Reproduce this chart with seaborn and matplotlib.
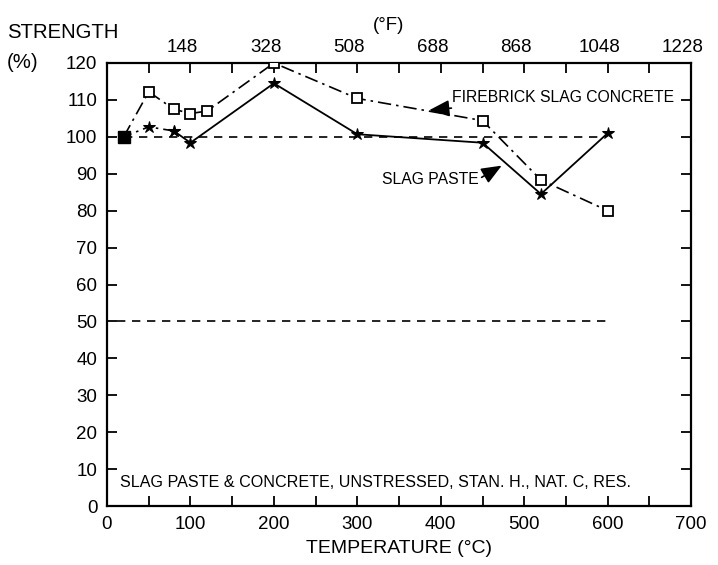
import matplotlib
matplotlib.use("Agg")
import matplotlib.pyplot as plt
import matplotlib.transforms as mtransforms
import seaborn as sns
import pandas as pd

# Residual strength vs. exposure temperature
concrete_temp = [20, 50, 80, 100, 120, 200, 300, 450, 520, 600]
concrete_strength = [100, 112.2, 107.5, 106.3, 107, 120, 110.4, 104.4, 88.3, 80]

paste_temp = [20, 50, 80, 100, 200, 300, 450, 520, 600]
paste_strength = [100, 102.7, 101.6, 98.4, 114.5, 100.7, 98.4, 84.5, 101]

ref_levels = [100, 50]
ref_start = [20, 12]
ref_end = [590, 600]

x_ticks = [0, 100, 200, 300, 400, 500, 600, 700]
y_ticks = [0, 10, 20, 30, 40, 50, 60, 70, 80, 90, 100, 110, 120]
f_positions = [100, 200, 300, 400, 500, 600, 700]
f_labels = ["148", "328", "508", "688", "868", "1048", "1228"]

sns.set_style("ticks")
plt.rcParams["font.family"] = ["Liberation Sans", "DejaVu Sans"]
plt.rcParams["text.color"] = "black"
plt.rcParams["axes.labelcolor"] = "black"
plt.rcParams["xtick.color"] = "black"
plt.rcParams["ytick.color"] = "black"

fig = plt.figure(figsize=(7.18, 5.65), dpi=100)
ax = fig.add_axes([0.149, 0.1044, 0.8136, 0.7841])

concrete = pd.DataFrame({"t": concrete_temp, "s": concrete_strength})
paste = pd.DataFrame({"t": paste_temp, "s": paste_strength})

# reference levels
for lvl, x0, x1 in zip(ref_levels, ref_start, ref_end):
    ax.plot([x0, x1], [lvl, lvl], color="black", lw=1.2,
            linestyle=(0, (5, 4)), zorder=1)

# firebrick slag concrete: dash-dot with open squares
sns.lineplot(data=concrete, x="t", y="s", ax=ax, color="black", lw=1.2,
             linestyle=(0, (8, 3, 1.5, 3)), marker="s", markersize=7,
             markerfacecolor="white", markeredgecolor="black",
             markeredgewidth=1.3, zorder=3, sort=False)

# slag paste: dash-dot start, then solid, with filled stars
n_dash = 3
sns.lineplot(data=paste.iloc[:n_dash], x="t", y="s", ax=ax, color="black",
             lw=1.2, linestyle=(0, (5, 3, 1.5, 3)), marker="*", markersize=9,
             markerfacecolor="black", markeredgecolor="black", zorder=4,
             sort=False)
sns.lineplot(data=paste.iloc[n_dash - 1:], x="t", y="s", ax=ax,
             color="black", lw=1.3, linestyle="-", marker="*", markersize=9,
             markerfacecolor="black", markeredgecolor="black", zorder=4,
             sort=False)

# shared starting point
ax.plot(concrete_temp[0], concrete_strength[0], marker="s", ms=8,
        mfc="black", mec="black", zorder=5)

ax.set_xlim(0, 700)
ax.set_ylim(0, 120)
ax.set_xticks(x_ticks)
ax.set_xticks(range(50, 700, 100), minor=True)
ax.set_yticks(y_ticks)
ax.tick_params(axis="both", which="both", direction="in", length=7,
               width=1.3, top=True, right=True, labelsize=13.5, pad=7,
               color="black", labelcolor="black")
for side in ["left", "right", "top", "bottom"]:
    ax.spines[side].set_visible(True)
    ax.spines[side].set_linewidth(1.6)
    ax.spines[side].set_color("black")
ax.set_xlabel("TEMPERATURE (°C)", fontsize=14, labelpad=5)
ax.set_ylabel("")

# Fahrenheit scale along the top
top = ax.secondary_xaxis("top")
top.set_xticks(f_positions)
top.set_xticklabels(f_labels)
top.tick_params(direction="in", length=0, labelsize=13.5, pad=5,
                labelcolor="black")
top.spines["top"].set_visible(False)
shift = mtransforms.ScaledTranslation(-6 / 72, 0, fig.dpi_scale_trans)
for lbl in top.get_xticklabels():
    lbl.set_transform(lbl.get_transform() + shift)
fig.text(0.541, 0.955, "(°F)", fontsize=13.5, ha="center", va="center")

fig.text(0.01, 0.942, "STRENGTH", fontsize=14.6, ha="left", va="center")
fig.text(0.01, 0.89, "(%)", fontsize=14.6, ha="left", va="center")

# callouts
arrow = dict(arrowstyle="-|>,head_length=1.1,head_width=0.45",
             color="black", lw=1.2, shrinkA=0, shrinkB=0)
ax.annotate("FIREBRICK SLAG CONCRETE", xy=(386, 107.2), xytext=(414, 110.7),
            fontsize=11.3, ha="left", va="center", arrowprops=arrow)
ax.annotate("SLAG PASTE", xy=(473, 92.2), xytext=(445, 88.5),
            fontsize=11.3, ha="right", va="center",
            arrowprops=dict(arrow, relpos=(1.0, 0.5)))

ax.text(15.5, 6.4, "SLAG PASTE & CONCRETE, UNSTRESSED, STAN. H., NAT. C, RES.",
        fontsize=11.6, ha="left", va="center")

fig.savefig("out.png", dpi=100)
